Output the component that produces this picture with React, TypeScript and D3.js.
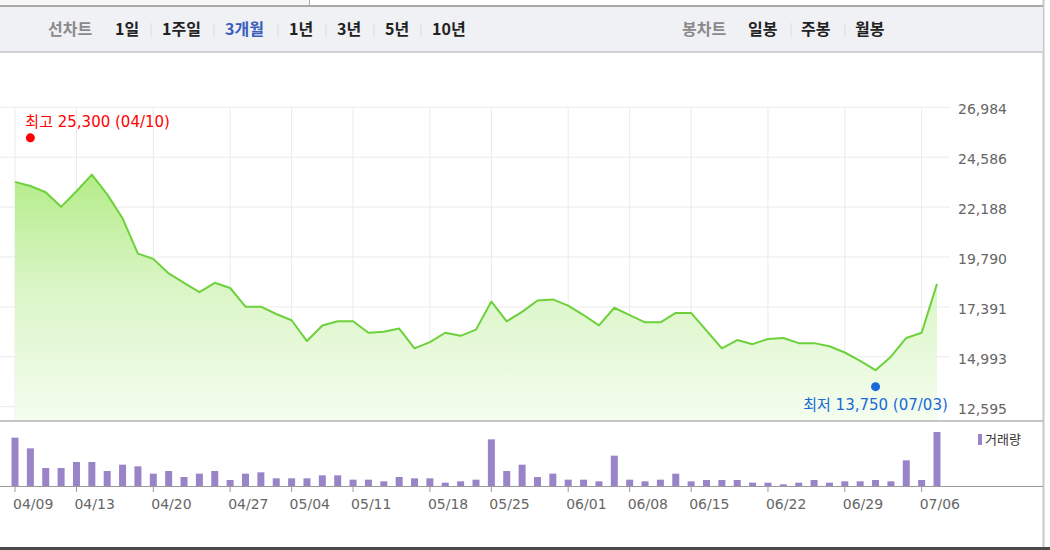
import React from 'react';
import * as d3 from 'd3';

// 3개월 종가 (04/09 ~ 07/06), one point per trading day
const closes = [
  23400, 23200, 22900, 22200, 22950, 23750, 22800, 21650, 19950, 19700,
  19000, 18550, 18100, 18550, 18300, 17400, 17400, 17050, 16750, 15750,
  16500, 16700, 16700, 16150, 16200, 16350, 15400, 15700, 16150, 16000,
  16300, 17650, 16700, 17150, 17700, 17750, 17450, 17000, 16500, 17350,
  17000, 16650, 16650, 17100, 17100, 16250, 15400, 15800, 15600, 15850,
  15900, 15650, 15650, 15500, 15200, 14800, 14350, 15000, 15900, 16150,
  18500,
];

// 거래량 (천주)
const volumes = [
  1450, 1130, 540, 540, 720, 720, 450, 640, 590, 370,
  450, 270, 370, 450, 180, 370, 410, 230, 230, 230,
  320, 320, 190, 190, 140, 270, 230, 230, 100, 140,
  190, 1400, 450, 640, 270, 370, 190, 190, 140, 910,
  190, 140, 190, 370, 140, 180, 180, 180, 100, 100,
  50, 100, 180, 100, 140, 140, 180, 140, 770, 180,
  1620,
];

const xTickIndex = [0, 4, 9, 14, 18, 22, 27, 31, 36, 40, 44, 49, 54, 59];
const xTickLabels = [
  '04/09', '04/13', '04/20', '04/27', '05/04', '05/11', '05/18',
  '05/25', '06/01', '06/08', '06/15', '06/22', '06/29', '07/06',
];
const yTicks = [26984, 24586, 22188, 19790, 17391, 14993, 12595];

const highPoint = { index: 1, value: 25300, label: '최고 25,300 (04/10)' };
const lowPoint = { index: 56, value: 13750, label: '최저 13,750 (07/03)' };

const periodTabs = ['1일', '1주일', '3개월', '1년', '3년', '5년', '10년'];
const periodX = [115, 162, 225, 289, 337, 385, 432];
const candleTabs = ['일봉', '주봉', '월봉'];
const candleX = [748, 801, 855];

const W = 1050;
const H = 550;
const num = 'DejaVu Sans, "Noto Sans CJK KR", sans-serif';
const kr = '"Noto Sans CJK KR", "Noto Sans", sans-serif';

const App: React.FC = () => {
  const x = d3.scaleLinear().domain([0, closes.length - 1]).range([15, 937]);
  const y = d3.scaleLinear().domain([12595, 26984]).range([406.7, 107.3]);
  const plotRight = 950;
  const areaBottom = 420;
  const volBase = 486;
  const yv = d3.scaleLinear().domain([0, d3.max(volumes) ?? 1]).range([volBase, volBase - 54]);

  const line = d3
    .line<number>()
    .x((_, i) => x(i))
    .y(d => y(d));
  const area = d3
    .area<number>()
    .x((_, i) => x(i))
    .y0(areaBottom)
    .y1(d => y(d));

  const barW = 7;

  return (
    <svg width={W} height={H} style={{ position: 'absolute', left: 0, top: 0, background: '#fff' }}>
      <defs>
        <linearGradient id="fillG" gradientUnits="userSpaceOnUse" x1="0" y1="170" x2="0" y2={areaBottom}>
          <stop offset="0" stopColor="#b3ec87" />
          <stop offset="0.5" stopColor="#dcf6c9" />
          <stop offset="1" stopColor="#f4fdef" />
        </linearGradient>
      </defs>

      {/* top strip */}
      <rect x={0} y={0} width={309} height={6} fill="#f7f7f7" />
      <line x1={309.5} x2={309.5} y1={0} y2={6} stroke="#aaa" />
      <line x1={1043.5} x2={1043.5} y1={0} y2={547} stroke="#c8c8c8" strokeWidth={2} />

      {/* nav bar */}
      <rect x={0} y={6} width={1043} height={46} fill="#f0f1f5" />
      <line x1={0} x2={1043} y1={6} y2={6} stroke="#a9a9a9" strokeWidth={2} />
      <line x1={0} x2={1043} y1={52} y2={52} stroke="#d2d3d6" strokeWidth={2} />
      <text x={48} y={35} fontFamily={kr} fontSize={16} fontWeight={700} fill="#8a8a8a">선차트</text>
      {periodTabs.map((t, i) => (
        <g key={t}>
          {i > 0 && (
            <line x1={periodX[i] - 11} x2={periodX[i] - 11} y1={23} y2={37} stroke="#dcdcdc" />
          )}
          <text x={periodX[i]} y={35} fontFamily={kr} fontSize={16} fontWeight={700}
            fill={t === '3개월' ? '#3a5dbb' : '#222'}>{t}</text>
        </g>
      ))}
      <text x={682} y={35} fontFamily={kr} fontSize={16} fontWeight={700} fill="#8a8a8a">봉차트</text>
      {candleTabs.map((t, i) => (
        <g key={t}>
          {i > 0 && (
            <line x1={candleX[i] - 10} x2={candleX[i] - 10} y1={23} y2={37} stroke="#dcdcdc" />
          )}
          <text x={candleX[i]} y={35} fontFamily={kr} fontSize={16} fontWeight={700} fill="#222">{t}</text>
        </g>
      ))}

      {/* grid */}
      {yTicks.map(t => (
        <line key={t} x1={0} x2={plotRight} y1={y(t)} y2={y(t)} stroke="#ebebeb" />
      ))}
      {xTickIndex.map(i => (
        <line key={i} x1={x(i)} x2={x(i)} y1={y(yTicks[0])} y2={areaBottom} stroke="#ebebeb" />
      ))}

      {/* price */}
      <path d={area(closes) ?? ''} fill="url(#fillG)" />
      <path d={line(closes) ?? ''} fill="none" stroke="#6dd13b" strokeWidth={2} strokeLinejoin="round" />

      {yTicks.map(t => (
        <text key={t} x={958} y={y(t) + 7} fontFamily={num} fontSize={14} fill="#666">
          {d3.format(',')(t)}
        </text>
      ))}

      {/* high / low */}
      <circle cx={x(highPoint.index)} cy={y(highPoint.value) - 4.5} r={4.5} fill="#f00" />
      <text x={x(highPoint.index) - 5} y={y(highPoint.value) - 15} fontFamily={num} fontSize={15} fill="#f00">
        {highPoint.label}
      </text>
      <circle cx={x(lowPoint.index)} cy={y(lowPoint.value) + 4} r={4.5} fill="#1a6ad8" />
      <text x={x(lowPoint.index)} y={y(lowPoint.value) + 27} textAnchor="middle" fontFamily={num}
        fontSize={15} fill="#1a6ad8">
        {lowPoint.label}
      </text>

      {/* volume */}
      <line x1={0} x2={1043} y1={421} y2={421} stroke="#8c8c8c" />
      {volumes.map((v, i) => (
        <rect key={i} x={x(i) - barW / 2} y={yv(v)} width={barW} height={volBase - yv(v)} fill="#9a84c8" />
      ))}
      <line x1={0} x2={1043} y1={volBase + 0.5} y2={volBase + 0.5} stroke="#9a9a9a" />
      {xTickIndex.map((idx, k) => (
        <g key={idx}>
          <line x1={x(idx)} x2={x(idx)} y1={volBase} y2={volBase + 6} stroke="#9a9a9a" />
          <text x={x(idx) - 2} y={509} fontFamily={num} fontSize={14} fill="#666">
            {xTickLabels[k]}
          </text>
        </g>
      ))}
      <rect x={978} y={434} width={4} height={11} fill="#9a84c8" />
      <text x={985} y={444} fontFamily={kr} fontSize={13} fill="#333">거래량</text>

      <rect x={0} y={547} width={W} height={3} fill="#4a4a4a" />
    </svg>
  );
};

export default App;
